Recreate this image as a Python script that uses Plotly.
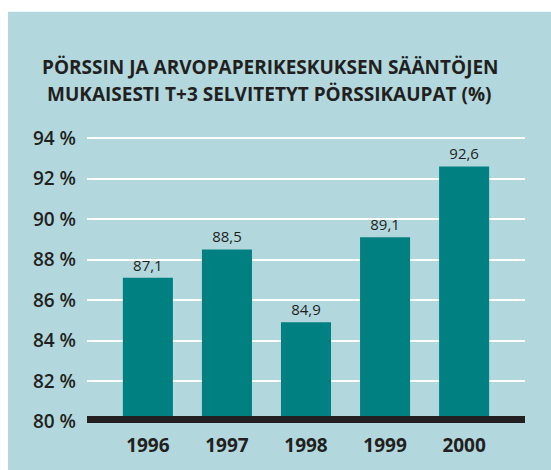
import plotly.graph_objects as go

years = ["1996", "1997", "1998", "1999", "2000"]
values = [87.1, 88.5, 84.9, 89.1, 92.6]
y_ticks = [80, 82, 84, 86, 88, 90, 92, 94]
y_tick_labels = [f"{v} %" for v in y_ticks]
title_line1 = "PÖRSSIN JA ARVOPAPERIKESKUKSEN SÄÄNTÖJEN"
title_line2 = "MUKAISESTI T+3 SELVITETYT PÖRSSIKAUPAT (%)"

BG = "#b2d8de"
BAR = "#008080"
INK = "#231f20"
FONT = "Open Sans"

TOP = 127.6
BOTTOM_PX = 425.9
PLOT_H = BOTTOM_PX - TOP

fig = go.Figure()
fig.add_trace(go.Bar(
    x=years, y=values, base=0,
    marker=dict(color=BAR, line=dict(width=0)),
    texttemplate="%{y:.1f}", textposition="outside",
    textfont=dict(family=FONT, size=15, color=INK),
    cliponaxis=False,
    hoverinfo="skip",
))

fig.update_layout(
    width=551, height=470,
    margin=dict(l=87, r=26, t=TOP, b=470 - BOTTOM_PX),
    paper_bgcolor="white",
    plot_bgcolor="rgba(0,0,0,0)",
    separators=", ",
    showlegend=False,
    bargap=0.367,
    xaxis=dict(type="category", range=[-0.77, 4.77], showgrid=False,
               showline=False, zeroline=False, ticks="",
               tickfont=dict(family=FONT, size=19, color=INK, weight="bold"),
               ticklabelstandoff=9),
    yaxis=dict(range=[79.93, 94.5], tickmode="array", tickvals=y_ticks,
               ticktext=y_tick_labels,
               showgrid=True, gridcolor="white", gridwidth=1.6,
               zeroline=False, showline=False, ticks="",
               tickfont=dict(family=FONT, size=19, color=INK, weight=600),
               ticklabelstandoff=10),
    shapes=[
        dict(type="rect", xref="paper", yref="paper",
             x0=(8 - 87) / 438, x1=1.2, y0=-0.3, y1=(BOTTOM_PX - 10) / PLOT_H,
             fillcolor=BG, line=dict(width=0), layer="below"),
        dict(type="rect", xref="paper", yref="y",
             x0=0, x1=1, y0=79.93, y1=80.27,
             fillcolor=INK, line=dict(width=0), layer="above"),
    ],
    annotations=[
        dict(text=title_line1, xref="paper", yref="paper",
             x=(270 - 87) / 438, y=(BOTTOM_PX - 65.5) / PLOT_H,
             xanchor="center", yanchor="middle", showarrow=False,
             font=dict(family=FONT, size=19, color=INK, weight="bold")),
        dict(text=title_line2, xref="paper", yref="paper",
             x=(269 - 87) / 438, y=(BOTTOM_PX - 93.5) / PLOT_H,
             xanchor="center", yanchor="middle", showarrow=False,
             font=dict(family=FONT, size=19, color=INK, weight="bold")),
    ],
)

fig.write_html(
    "out.html",
    config={"displayModeBar": False},
    post_script="document.body.style.margin='0';document.body.style.overflow='hidden';",
)
